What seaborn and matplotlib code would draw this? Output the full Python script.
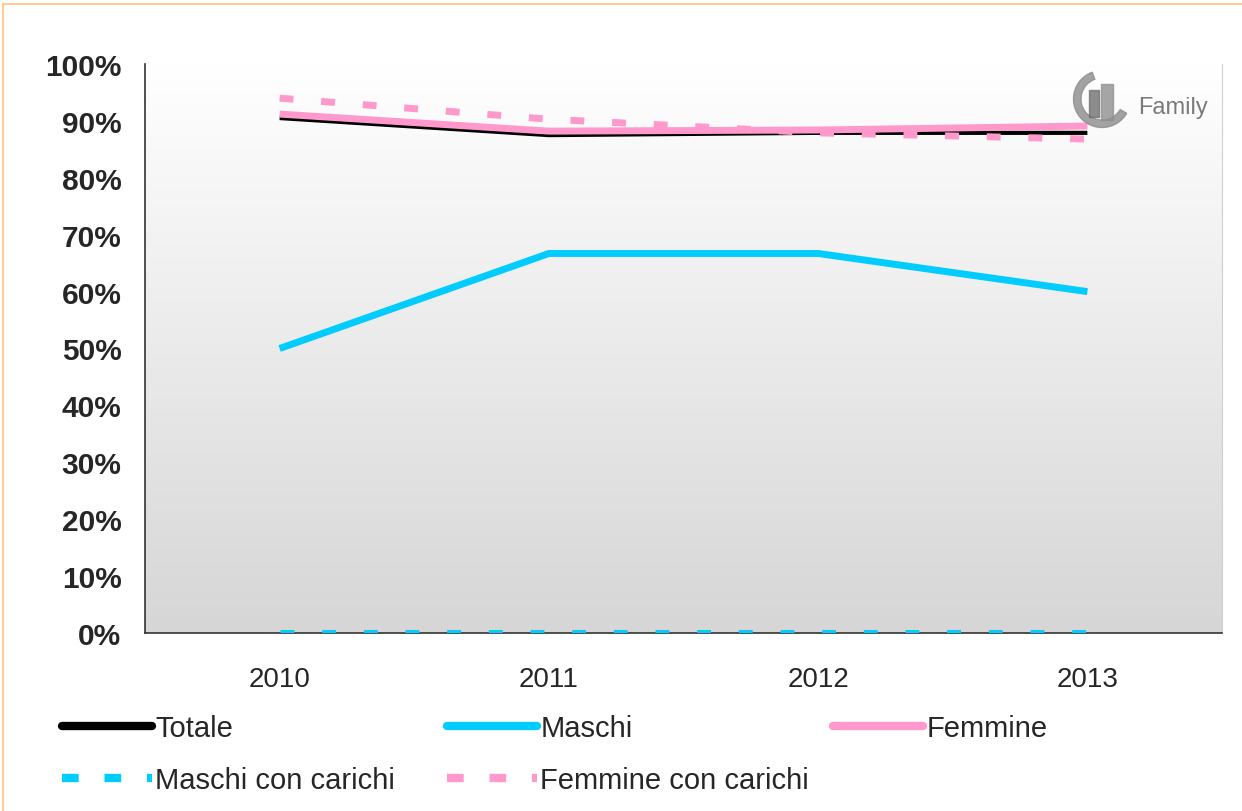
import numpy as np
import pandas as pd
import matplotlib.pyplot as plt
from matplotlib.lines import Line2D
from matplotlib.patches import Wedge, Rectangle
from matplotlib.colors import LinearSegmentedColormap
import seaborn as sns

# data
years = ["2010", "2011", "2012", "2013"]
totale = [90.5, 87.5, 87.9, 87.9]
maschi = [50.0, 66.7, 66.7, 60.0]
femmine = [91.2, 88.2, 88.4, 89.1]
maschi_carichi = [0.0, 0.0, 0.0, 0.0]
femmine_carichi = [94.0, 90.3, 87.9, 86.8]

series = ["Totale", "Maschi", "Femmine", "Maschi con carichi", "Femmine con carichi"]
values = [totale, maschi, femmine, maschi_carichi, femmine_carichi]
colors = ["#000000", "#00ccff", "#ff99cc", "#00ccff", "#ff99cc"]
dashed = [False, False, False, True, True]

df = pd.DataFrame({
    "anno": np.tile(np.arange(len(years)), len(series)),
    "serie": np.repeat(series, len(years)),
    "valore": np.concatenate(values),
})

sns.set_style("white")
plt.rcParams["font.family"] = ["Liberation Sans", "DejaVu Sans"]

W, H = 1242, 812
fig = plt.figure(figsize=(W / 100, H / 100), dpi=100)
ax = fig.add_axes([145 / W, 1 - 634 / H, (1222 - 145) / W, (634 - 65) / H])

# gradient background of the plot area
grad = np.linspace(0, 1, 256).reshape(-1, 1)
ax.imshow(grad, extent=[-0.5, 3.5, 0, 100], aspect="auto", origin="upper",
          cmap=LinearSegmentedColormap.from_list("g", ["#ffffff", "#d6d6d6"]), zorder=0)

widths = [3, 5, 5, 5, 5]
order = [0, 2, 1, 4, 3]
for i in order:
    sub = df[df["serie"] == series[i]]
    ls = (0, (2, 4)) if dashed[i] else "-"
    sns.lineplot(data=sub, x="anno", y="valore", ax=ax, color=colors[i],
                 linewidth=widths[i], linestyle=ls, legend=False, zorder=3 + i,
                 solid_capstyle="butt", dash_capstyle="butt")

ax.set_xlim(-0.5, 3.5)
ax.set_ylim(0, 100)
ax.set_xticks(range(len(years)))
ax.set_xticklabels(years)
ax.set_xticks([-0.5, 0.5, 1.5, 2.5, 3.5], minor=True)
ax.set_yticks(range(0, 101, 10))
ax.set_yticklabels([f"{v}%" for v in range(0, 101, 10)], fontweight="bold")
ax.tick_params(axis="x", which="major", length=0, labelsize=20, pad=24)
ax.tick_params(axis="x", which="minor", length=7, width=1.2, color="#333333", direction="out")
ax.tick_params(axis="y", length=7, width=1.2, color="#333333", labelsize=21.5, pad=10,
               direction="out")
ax.set_xlabel("")
ax.set_ylabel("")
ax.spines["top"].set_visible(False)
ax.spines["right"].set_color("#d0d0d0")
for s in ["left", "bottom"]:
    ax.spines[s].set_color("#333333")
    ax.spines[s].set_linewidth(1.2)

# logo stand-in
lax = fig.add_axes([1072 / W, 1 - 130 / H, 60 / W, 60 / H])
lax.set_xlim(-1, 1)
lax.set_ylim(-1, 1)
lax.axis("off")
lax.add_patch(Wedge((0, 0), 0.95, 110, 330, width=0.25, color="#8c8c8c", alpha=0.8))
lax.add_patch(Rectangle((-0.45, -0.6), 0.35, 0.9, color="#707070", alpha=0.8))
lax.add_patch(Rectangle((-0.05, -0.7), 0.4, 1.2, color="#909090", alpha=0.8))
fig.text(1138 / W, 1 - 108 / H, "Family", ha="left", va="center", fontsize=17,
         color="#7a7a7a")

# orange frame
fig.add_artist(Line2D([3 / W, 1], [1 - 5 / H, 1 - 5 / H], transform=fig.transFigure,
                      color="#ffcc99", linewidth=1.5))
fig.add_artist(Line2D([3 / W, 3 / W], [0, 1 - 5 / H], transform=fig.transFigure,
                      color="#ffcc99", linewidth=1.5))

# legend entries at fixed slots, like the original
slots = [(62, 729), (447, 729), (833, 729), (62, 781), (447, 781)]
for i, (px, py) in enumerate(slots):
    ls = (0, (2, 3.1)) if dashed[i] else "-"
    h = Line2D([], [], color=colors[i], linewidth=6, linestyle=ls,
               solid_capstyle="round", dash_capstyle="butt")
    fig.legend([h], [series[i]], loc="center left", bbox_to_anchor=(px / W, 1 - py / H),
               frameon=False, fontsize=21, handlelength=3.1, handletextpad=0.1,
               borderpad=0, borderaxespad=0)

fig.savefig("out.png", dpi=100)
